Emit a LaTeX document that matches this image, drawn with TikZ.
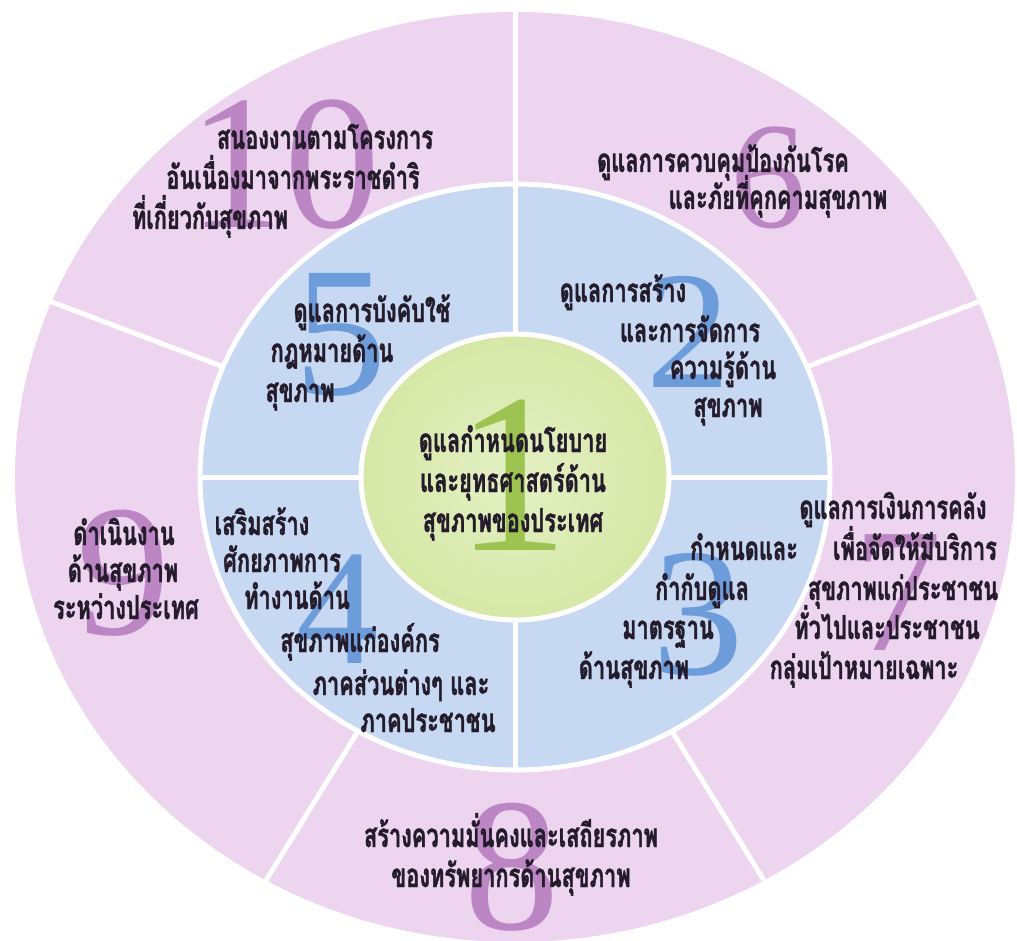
\documentclass[tikz,border=0pt]{standalone}
\usepackage{fontspec}
\newfontfamily\thaifont[Script=Thai,FakeStretch=0.66,FakeBold=1.2]{Loma}
\newfontfamily\numfont{Liberation Serif}
\definecolor{ringpink}{HTML}{EDD5F0}
\definecolor{ringblue}{HTML}{C6D8F2}
\definecolor{coregreen}{HTML}{D6E8A6}
\definecolor{coregreenlight}{HTML}{E4F0C4}
\definecolor{numpurple}{HTML}{BC86C4}
\definecolor{numblue}{HTML}{6C9CDA}
\definecolor{numgreen}{HTML}{9DC451}
\definecolor{inkdark}{HTML}{241B2B}

\begin{document}
\begin{tikzpicture}[x=1pt,y=1pt,
  lbl/.style={font=\thaifont\bfseries\fontsize{33}{33}\selectfont, text=inkdark, inner sep=0pt, anchor=base},
  bignum/.style={font=\numfont\fontsize{#1}{#1}\selectfont, inner sep=0pt},
  gap/.style={draw=white, line width=5pt}]

\useasboundingbox (-515,-463) rectangle (502,477);

% outer ring and its five sectors
\fill[ringpink] (0,0) ellipse [x radius=500, y radius=465];
\begin{scope}
  \clip (0,0) ellipse [x radius=500, y radius=465];
  \foreach \a in {90,22,-60,-120,158}
    \draw[gap] (0,0) -- ({540*cos(\a)},{505*sin(\a)});
\end{scope}

% middle ring, four quadrants
\draw[gap, fill=ringblue] (0,0) ellipse [x radius=315, y radius=293];
\draw[gap] (0,293) -- (0,-293);
\draw[gap] (-315,0) -- (315,0);

% core
\shade[inner color=coregreenlight, outer color=coregreen] (0,0) ellipse [x radius=154, y radius=143];
\draw[gap] (0,0) ellipse [x radius=154, y radius=143];

% big numerals
\node[bignum=228, text=numgreen]  (n1)  at (-2,2)      {1};
\node[bignum=168, text=numblue]   (n2)  at (173,145)   {2};
\node[bignum=183, text=numblue]   (n3)  at (183,-138)  {3};
\node[bignum=165, text=numblue]   (n4)  at (-177,-132) {4};
\node[bignum=185, text=numblue]   (n5)  at (-174,142)  {5};
\node[bignum=152, text=numpurple] (n6)  at (253,299)   {6};
\node[bignum=177, text=numpurple] (n7)  at (383,-116)  {7};
\node[bignum=190, text=numpurple] (n8)  at (-3,-390)   {8};
\node[bignum=188, text=numpurple] (n9)  at (-391,-96)  {9};
\node[bignum=192, text=numpurple] (n10) at (-230,312)  {10};

% sector 10
\node[lbl] (t10a) at (-190,328) {สนองงานตามโครงการ};
\node[lbl] (t10b) at (-222,288) {อันเนื่องมาจากพระราชดำริ};
\node[lbl] (t10c) at (-305,248) {ที่เกี่ยวกับสุขภาพ};
% sector 6
\node[lbl] (t6a) at (208,305) {ดูแลการควบคุมป้องกันโรค};
\node[lbl] (t6b) at (263,268) {และภัยที่คุกคามสุขภาพ};
% quadrant 5
\node[lbl] (t5a) at (-143,155) {ดูแลการบังคับใช้};
\node[lbl] (t5b) at (-183,115) {กฎหมายด้าน};
\node[lbl] (t5c) at (-215,75)  {สุขภาพ};
% quadrant 2
\node[lbl] (t2a) at (108,175) {ดูแลการสร้าง};
\node[lbl] (t2b) at (175,135) {และการจัดการ};
\node[lbl] (t2c) at (208,98)  {ความรู้ด้าน};
\node[lbl] (t2d) at (213,60)  {สุขภาพ};
% core 1
\node[lbl] (t1a) at (-2,25)  {ดูแลกำหนดนโยบาย};
\node[lbl] (t1b) at (-2,-15) {และยุทธศาสตร์ด้าน};
\node[lbl] (t1c) at (-2,-55) {สุขภาพของประเทศ};
% quadrant 4
\node[lbl] (t4a) at (-253,-58)  {เสริมสร้าง};
\node[lbl] (t4b) at (-233,-95)  {ศักยภาพการ};
\node[lbl] (t4c) at (-218,-132) {ทำงานด้าน};
\node[lbl] (t4d) at (-155,-175) {สุขภาพแก่องค์กร};
\node[lbl] (t4e) at (-114,-218) {ภาคส่วนต่างๆ และ};
\node[lbl] (t4f) at (-87,-255)  {ภาคประชาชน};
% quadrant 3
\node[lbl] (t3a) at (229,-83)  {กำหนดและ};
\node[lbl] (t3b) at (187,-123) {กำกับดูแล};
\node[lbl] (t3c) at (153,-162) {มาตรฐาน};
\node[lbl] (t3d) at (119,-202) {ด้านสุขภาพ};
% sector 7
\node[lbl] (t7a) at (378,-42)  {ดูแลการเงินการคลัง};
\node[lbl] (t7b) at (400,-83)  {เพื่อจัดให้มีบริการ};
\node[lbl] (t7c) at (388,-123) {สุขภาพแก่ประชาชน};
\node[lbl] (t7d) at (372,-162) {ทั่วไปและประชาชน};
\node[lbl] (t7e) at (349,-202) {กลุ่มเป้าหมายเฉพาะ};
% sector 9
\node[lbl] (t9a) at (-391,-68)  {ดำเนินงาน};
\node[lbl] (t9b) at (-392,-105) {ด้านสุขภาพ};
\node[lbl] (t9c) at (-389,-142) {ระหว่างประเทศ};
% sector 8
\node[lbl] (t8a) at (-4,-370) {สร้างความมั่นคงและเสถียรภาพ};
\node[lbl] (t8b) at (-4,-410) {ของทรัพยากรด้านสุขภาพ};
\end{tikzpicture}
\end{document}
